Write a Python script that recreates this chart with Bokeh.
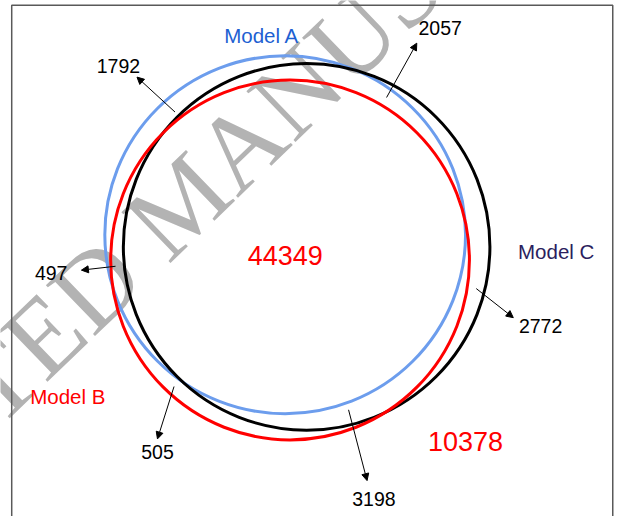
import math
from bokeh.plotting import figure
from bokeh.models import Range1d, Arrow, NormalHead, ColumnDataSource
from bokeh.core.properties import value
from bokeh.embed import file_html
from bokeh.resources import INLINE

# ---- data ----
model_names = ["Model A", "Model B", "Model C"]
model_colors = ["#6c9ded", "#ff0000", "#000000"]
model_label_colors = ["#1d5fd2", "#ff0000", "#2b1e5e"]
region_values = ["1792", "2057", "497", "2772", "505", "3198"]
center_value = "44349"
outside_value = "10378"

# ---- layout (reference-pixel coordinates; y is negated) ----
W, H = 622, 516
RW, RH = 638, 532
circ_cx = [292, 297, 314]
circ_cy = [241.5, 267.5, 254]
circ_rx = [185, 184, 188]
circ_ry = [184.5, 185.5, 189]
model_lx = [268, 69, 570]
model_ly = [36, 408, 259]

reg_lx = [121, 451, 52, 554, 161, 383]
reg_ly = [68, 28, 281, 336, 465, 514]
arr_x0 = [179, 396, 118, 488, 178, 357]
arr_y0 = [115, 100, 274, 297, 398, 422]
arr_x1 = [140, 427, 83, 526, 161, 376]
arr_y1 = [79, 44, 278, 327, 452, 495]

p = figure(width=W, height=H, output_backend="svg", toolbar_location=None,
           x_range=Range1d(0, RW), y_range=Range1d(-RH, 0),
           x_axis_type=None, y_axis_type=None, min_border=0)
p.outline_line_color = None
p.xgrid.visible = False
p.ygrid.visible = False

# watermark
p.text(x=[187], y=[-206], text=["ACCEPTED MANUSCRIPT"], angle=44, angle_units="deg",
       text_font=value("Liberation Serif"), text_font_size=value("108px"),
       text_color="#b3b3b3", text_align="center", text_baseline="middle")

# frame
p.line(x=[11.5, 11.5, 628, 628], y=[-560, -5, -5, -560], line_color="#595959", line_width=1.5)

# circles
order = [0, 2, 1]
for i in order:
    p.ellipse(x=[circ_cx[i]], y=[-circ_cy[i]], width=[2 * circ_rx[i]], height=[2 * circ_ry[i]],
              fill_color=None, line_color=model_colors[i], line_width=3)

# model labels
p.text(x=model_lx, y=[-v for v in model_ly], text=model_names,
       text_color=model_label_colors, text_font=value("Liberation Sans"),
       text_font_size=value("20.5px"), text_align="center", text_baseline="middle")

# region labels
p.text(x=reg_lx, y=[-v for v in reg_ly], text=region_values, text_color="black",
       text_font=value("Liberation Sans"), text_font_size=value("19.5px"),
       text_align="center", text_baseline="middle")

p.text(x=[292, 477], y=[-263, -455], text=[center_value, outside_value], text_color="#ff0000",
       text_font=value("Liberation Sans"), text_font_size=value("27px"),
       text_align="center", text_baseline="middle")

src = ColumnDataSource(dict(x0=arr_x0, y0=[-v for v in arr_y0], x1=arr_x1, y1=[-v for v in arr_y1]))
p.add_layout(Arrow(source=src, x_start="x0", y_start="y0", x_end="x1", y_end="y1",
                   line_color="black", line_width=1,
                   end=NormalHead(size=7, fill_color="black", line_color="black", line_width=1)))

open("out.html", "w").write(file_html(p, INLINE))
